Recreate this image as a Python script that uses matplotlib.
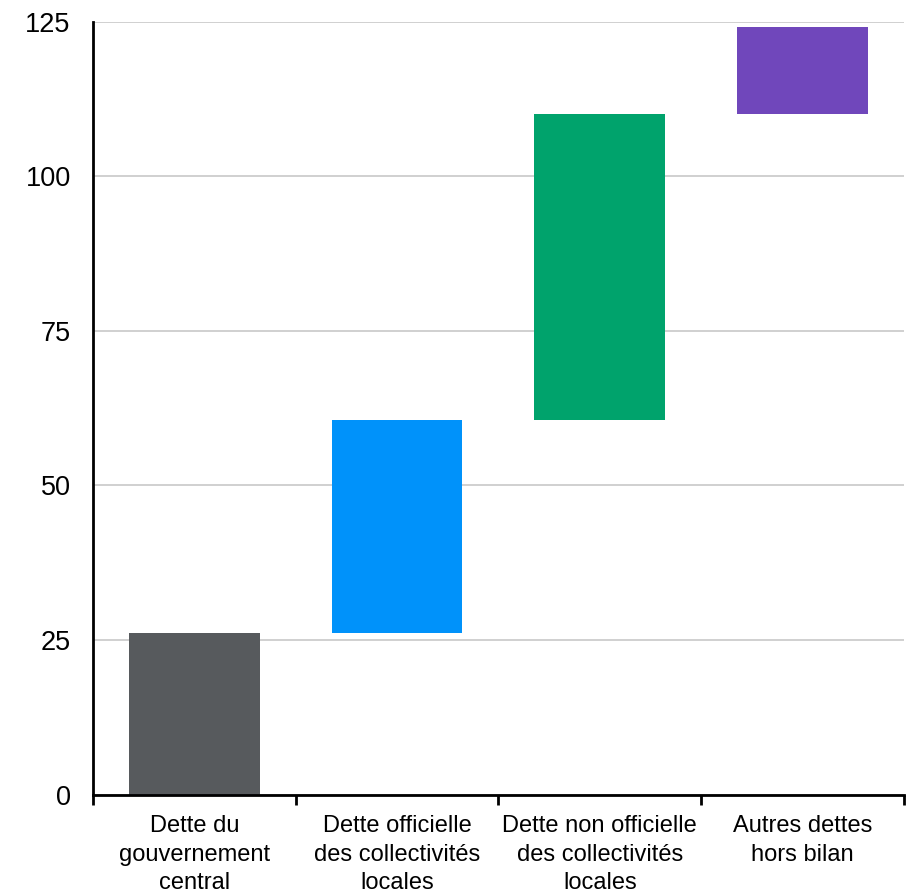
import matplotlib.pyplot as plt
import numpy as np

plt.rcParams['font.family'] = ['Liberation Sans', 'DejaVu Sans']

# categories and step values of the waterfall
labels = ['Dette du\ngouvernement\ncentral',
          'Dette officielle\ndes collectivités\nlocales',
          'Dette non officielle\ndes collectivités\nlocales',
          'Autres dettes\nhors bilan']
steps = [26.1, 34.5, 49.4, 14.1]
colors = ['#575a5d', '#0092fa', '#00a36c', '#7047bb']

bottoms = np.concatenate([[0], np.cumsum(steps)[:-1]])
x = np.arange(len(steps))

fig = plt.figure(figsize=(9.2, 8.96), dpi=100)
ax = fig.add_axes([0.101, 0.1132, 0.8816, 0.8628])

ax.bar(x, steps, bottom=bottoms, width=0.645, color=colors, zorder=3)

ax.set_xlim(-0.5, len(steps) - 0.5)
ax.set_ylim(0, 125)
ax.set_yticks([0, 25, 50, 75, 100, 125])
ax.yaxis.grid(True, color='#c8c8c8', linewidth=1.2, zorder=0)

ax.set_xticks(x)
ax.set_xticklabels(labels, fontsize=17, linespacing=1.38)
ax.set_xticks(np.arange(len(steps) + 1) - 0.5, minor=True)
ax.tick_params(axis='x', which='major', length=0, pad=15)
ax.tick_params(axis='x', which='minor', length=7, width=2, direction='out')
ax.tick_params(axis='y', length=0, pad=16, labelsize=19.5)

for s in ['top', 'right']:
    ax.spines[s].set_visible(False)
for s in ['left', 'bottom']:
    ax.spines[s].set_linewidth(2)
    ax.spines[s].set_color('black')
    ax.spines[s].set_zorder(4)

plt.savefig('out.png', dpi=100)
